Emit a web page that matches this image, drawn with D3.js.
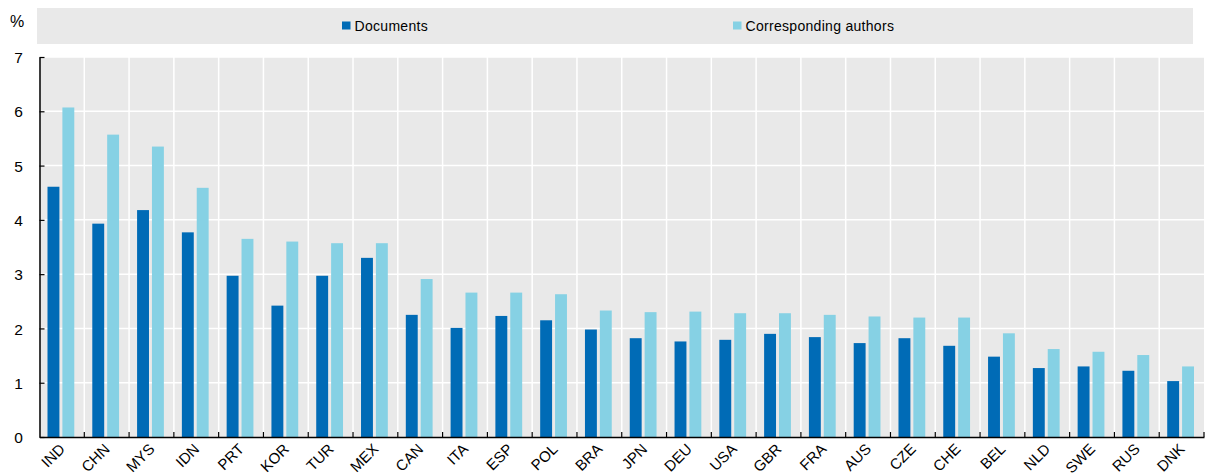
<!DOCTYPE html>
<html>
<head>
<meta charset="utf-8">
<script src="https://cdn.jsdelivr.net/npm/d3@7/dist/d3.min.js"></script>
<style>
  html, body { margin: 0; padding: 0; background: #fff; }
  svg { display: block; }
  text { font-family: "Liberation Sans", Arial, sans-serif; fill: #000; }
</style>
</head>
<body>
<svg id="chart" width="1211" height="475"></svg>
<script>
// Share of documents and corresponding authors, by economy (%)
const countries = ["IND","CHN","MYS","IDN","PRT","KOR","TUR","MEX","CAN","ITA","ESP","POL","BRA",
                   "JPN","DEU","USA","GBR","FRA","AUS","CZE","CHE","BEL","NLD","SWE","RUS","DNK"];
const documents = [4.61,3.93,4.18,3.77,2.97,2.42,2.97,3.30,2.25,2.01,2.23,2.15,1.98,
                   1.82,1.76,1.79,1.90,1.84,1.73,1.82,1.68,1.48,1.27,1.30,1.22,1.03];
const correspondingAuthors = [6.07,5.57,5.35,4.59,3.65,3.60,3.57,3.57,2.91,2.66,2.66,2.63,2.33,
                   2.30,2.31,2.28,2.28,2.25,2.22,2.20,2.20,1.91,1.62,1.57,1.51,1.30];
const seriesNames = ["Documents", "Corresponding authors"];
const yTicks = [0,1,2,3,4,5,6,7];

const colors = { "Documents": "#006BB6", "Corresponding authors": "#86D1E4" };

const svg = d3.select("#chart");
const plotLeft = 39.5, plotRight = 1204, plotTop = 57, plotBottom = 437;

const x = d3.scaleBand().domain(countries).range([plotLeft, plotRight]).paddingInner(0).paddingOuter(0);
const y = d3.scaleLinear().domain([0, 7]).range([plotBottom, plotTop]);
const inner = d3.scaleBand().domain(seriesNames).range([8, x.bandwidth() - 10]).paddingInner(0.2);

// plot background
svg.append("rect").attr("x", plotLeft).attr("y", plotTop)
  .attr("width", plotRight - plotLeft).attr("height", plotBottom - plotTop).attr("fill", "#E9E9E9");

// horizontal gridlines
svg.append("g").selectAll("line").data(yTicks.slice(1)).join("line")
  .attr("x1", plotLeft).attr("x2", plotRight)
  .attr("y1", d => y(d)).attr("y2", d => y(d))
  .attr("stroke", "#fff").attr("stroke-width", 1.5);

// vertical gridlines between categories
svg.append("g").selectAll("line").data(countries.slice(1)).join("line")
  .attr("x1", d => x(d)).attr("x2", d => x(d))
  .attr("y1", plotTop).attr("y2", plotBottom)
  .attr("stroke", "#fff").attr("stroke-width", 1.5);

// bars
const rows = countries.map((c, i) => ({ c, vals: [documents[i], correspondingAuthors[i]] }));
const groups = svg.append("g").selectAll("g").data(rows).join("g")
  .attr("transform", d => `translate(${x(d.c)},0)`);
groups.selectAll("rect").data(d => d.vals.map((v, k) => ({ s: seriesNames[k], v }))).join("rect")
  .attr("x", d => inner(d.s)).attr("width", inner.bandwidth())
  .attr("y", d => y(d.v)).attr("height", d => y(0) - y(d.v))
  .attr("fill", d => colors[d.s]);

// y axis
const yAxis = svg.append("g").attr("transform", `translate(${plotLeft},0)`)
  .call(d3.axisLeft(y).tickValues(yTicks).tickFormat(d3.format("d")).tickSizeInner(-5).tickSizeOuter(0));
yAxis.select(".domain").attr("stroke", "#000").attr("stroke-width", 1.5);
yAxis.selectAll(".tick line").attr("stroke", "#000").attr("stroke-width", 1.2);
yAxis.selectAll(".tick text")
  .attr("font-size", 15.5).attr("fill", "#000")
  .attr("text-anchor", "middle").attr("x", -21).attr("dy", "0.36em");
yAxis.attr("font-family", null);

// x axis
const xAxis = svg.append("g").attr("transform", `translate(0,${plotBottom})`)
  .call(d3.axisBottom(x).tickSize(0).tickFormat(""));
xAxis.select(".domain").attr("stroke", "#000").attr("stroke-width", 1.5);
xAxis.selectAll(".tick").remove();
svg.append("g").selectAll("line").data(countries.slice(1).concat(["__end"])).join("line")
  .attr("x1", d => d === "__end" ? plotRight : x(d)).attr("x2", d => d === "__end" ? plotRight : x(d))
  .attr("y1", plotBottom).attr("y2", plotBottom - 5)
  .attr("stroke", "#000").attr("stroke-width", 1.2);

svg.append("g").selectAll("text").data(countries).join("text")
  .attr("transform", d => `translate(${x(d) + x.bandwidth() / 2 + 4},${plotBottom + 13}) rotate(-45)`)
  .attr("text-anchor", "end").attr("font-size", 15)
  .text(d => d);

// unit label
svg.append("text").attr("x", 10).attr("y", 27).attr("font-size", 16).text("%");

// legend
svg.append("rect").attr("x", 37).attr("y", 8).attr("width", 1156).attr("height", 36).attr("fill", "#E9E9E9");
const legendPos = [{ s: "Documents", x: 342 }, { s: "Corresponding authors", x: 733 }];
const lg = svg.append("g").selectAll("g").data(legendPos).join("g")
  .attr("transform", d => `translate(${d.x},21.5)`);
lg.append("rect").attr("width", 8.5).attr("height", 8).attr("fill", d => colors[d.s]);
lg.append("text").attr("x", 12.5).attr("y", 9.5).attr("font-size", 14)
  .attr("letter-spacing", 0.3).text(d => d.s);
</script>
</body>
</html>
